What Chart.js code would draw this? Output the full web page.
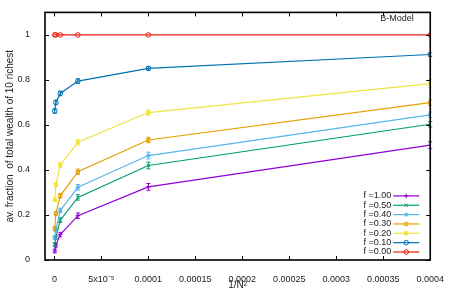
<!DOCTYPE html>
<html>
<head>
<meta charset="utf-8">
<script src="https://cdn.jsdelivr.net/npm/chart.js@4"></script>
<style>
  html, body { margin: 0; padding: 0; background: #fff; }
  #wrap { width: 450px; height: 300px; }
</style>
</head>
<body>
<div id="wrap"><canvas id="chart" width="450" height="300"></canvas></div>
<script>
// 1/N^2 for N = 1600, 800, 400, 200, 100, 50
const xValues = [3.9e-7, 1.5625e-6, 6.25e-6, 2.5e-5, 1e-4, 4e-4];

const seriesLabels = ['f =1.00', 'f =0.50', 'f =0.40', 'f =0.30', 'f =0.20', 'f =0.10', 'f =0.00'];

const f100 = [0.040, 0.065, 0.113, 0.197, 0.325, 0.510];
const f050 = [0.069, 0.100, 0.177, 0.278, 0.420, 0.603];
const f040 = [0.100, 0.135, 0.220, 0.323, 0.464, 0.645];
const f030 = [0.140, 0.207, 0.285, 0.392, 0.533, 0.699];
const f020 = [0.267, 0.334, 0.422, 0.523, 0.655, 0.784];
const f010 = [0.662, 0.700, 0.740, 0.795, 0.851, 0.913];
const f000 = [1.000, 1.000, 1.000, 1.000, 1.000, 1.000];

const f100Err = [0.008, 0.008, 0.010, 0.012, 0.015, 0.015];
const f050Err = [0.008, 0.008, 0.010, 0.012, 0.015, 0.012];
const f040Err = [0.008, 0.008, 0.010, 0.012, 0.015, 0.012];
const f030Err = [0.008, 0.008, 0.010, 0.012, 0.012, 0.012];
const f020Err = [0.008, 0.010, 0.010, 0.012, 0.012, 0.018];
const f010Err = [0.010, 0.010, 0.010, 0.010, 0.008, 0.008];
const f000Err = [0, 0, 0, 0, 0, 0];

const xTickValues = [0, 5e-5, 1e-4, 1.5e-4, 2e-4, 2.5e-4, 3e-4, 3.5e-4, 4e-4];
const xTickLabels = ['0', '5x10\u207B\u2075', '0.0001', '0.00015', '0.0002', '0.00025', '0.0003', '0.00035', '0.0004'];
const yTickValues = [0, 0.2, 0.4, 0.6, 0.8, 1];
const yTickLabels = ['0', '0.2', '0.4', '0.6', '0.8', '1'];

const FONT = 'Liberation Sans, Arial, sans-serif';
const TEXT = '#222';

const styles = [
  { color: '#9400d3', point: 'cross', fill: false },
  { color: '#009e73', point: 'crossRot', fill: false },
  { color: '#56b4e9', point: 'star', fill: false },
  { color: '#e69f00', point: 'rect', fill: false },
  { color: '#f0e442', point: 'rect', fill: true },
  { color: '#0072b2', point: 'circle', fill: false },
  { color: '#e51e10', point: 'circle', fill: false }
];

const values = [f100, f050, f040, f030, f020, f010, f000];
const errors = [f100Err, f050Err, f040Err, f030Err, f020Err, f010Err, f000Err];

const datasets = values.map((vals, k) => ({
  label: seriesLabels[k],
  data: xValues.map((x, i) => ({ x: x, y: vals[i] })),
  err: errors[k],
  borderColor: styles[k].color,
  backgroundColor: styles[k].fill ? styles[k].color : 'rgba(0,0,0,0)',
  pointStyle: styles[k].point,
  pointRadius: 2.3,
  pointBorderWidth: 1,
  borderWidth: 1.2,
  showLine: true,
  tension: 0
}));

// vertical error bars with small caps
const errorBars = {
  id: 'errorBars',
  afterDatasetsDraw(chart) {
    const { ctx, scales: { x, y } } = chart;
    ctx.save();
    chart.data.datasets.forEach(ds => {
      ctx.strokeStyle = ds.borderColor;
      ctx.lineWidth = 1;
      ds.data.forEach((p, i) => {
        const e = ds.err[i];
        if (!e) return;
        const px = x.getPixelForValue(p.x);
        const y1 = y.getPixelForValue(p.y - e);
        const y2 = y.getPixelForValue(p.y + e);
        ctx.beginPath();
        ctx.moveTo(px, y1); ctx.lineTo(px, y2);
        ctx.moveTo(px - 2, y1); ctx.lineTo(px + 2, y1);
        ctx.moveTo(px - 2, y2); ctx.lineTo(px + 2, y2);
        ctx.stroke();
      });
    });
    ctx.restore();
  }
};

// gnuplot-like frame with inward ticks on all four sides, plus key and label
const frame = {
  id: 'frame',
  afterDraw(chart) {
    const { ctx, chartArea: a, scales: { x, y } } = chart;
    ctx.save();
    ctx.strokeStyle = '#000';
    ctx.lineWidth = 1;
    ctx.beginPath();
    xTickValues.forEach(v => {
      const px = Math.round(x.getPixelForValue(v)) + 0.5;
      ctx.moveTo(px, a.bottom); ctx.lineTo(px, a.bottom - 4);
      ctx.moveTo(px, a.top); ctx.lineTo(px, a.top + 4);
    });
    yTickValues.forEach(v => {
      const py = Math.round(y.getPixelForValue(v)) + 0.5;
      ctx.moveTo(a.left, py); ctx.lineTo(a.left + 4, py);
      ctx.moveTo(a.right, py); ctx.lineTo(a.right - 4, py);
    });
    ctx.stroke();
    ctx.lineWidth = 1.6;
    ctx.strokeRect(a.left, a.top, a.right - a.left, a.bottom - a.top);

    ctx.fillStyle = TEXT;
    ctx.font = '9px ' + FONT;
    ctx.textAlign = 'left';
    ctx.textBaseline = 'middle';
    ctx.fillText('B-Model', a.right - 50, a.top + 6);

    const step = 9.35;
    const textRight = a.right - 39;
    const lineL = a.right - 37, lineR = a.right - 11;
    const helpers = Chart.helpers;
    ctx.textAlign = 'right';
    chart.data.datasets.forEach((ds, k) => {
      const ry = a.bottom - 8 - step * (chart.data.datasets.length - 1 - k);
      ctx.fillStyle = TEXT;
      ctx.fillText(ds.label, textRight, ry);
      ctx.strokeStyle = ds.borderColor;
      ctx.lineWidth = 1.2;
      ctx.beginPath();
      ctx.moveTo(lineL, ry); ctx.lineTo(lineR, ry);
      ctx.stroke();
      if (helpers && helpers.drawPoint) {
        ctx.fillStyle = ds.backgroundColor;
        ctx.lineWidth = 1;
        helpers.drawPoint(ctx, { pointStyle: ds.pointStyle, radius: 2.3, rotation: 0, borderWidth: 1 }, (lineL + lineR) / 2, ry);
      }
    });
    ctx.restore();
  }
};

new Chart(document.getElementById('chart'), {
  type: 'scatter',
  data: { datasets: datasets },
  options: {
    responsive: false,
    animation: false,
    layout: { padding: { top: 9, right: 17, left: 0, bottom: 0 } },
    plugins: { legend: { display: false }, tooltip: { enabled: false } },
    scales: {
      x: {
        type: 'linear',
        min: -1e-5,
        max: 4e-4,
        grid: { display: false },
        border: { display: false },
        afterBuildTicks: s => { s.ticks = xTickValues.map(v => ({ value: v })); },
        afterFit: s => { s.height = 40; },
        ticks: {
          autoSkip: false,
          maxRotation: 0,
          padding: 6,
          color: TEXT,
          font: { family: FONT, size: 9 },
          callback: (v, i) => xTickLabels[i]
        },
        title: {
          display: true,
          text: '1/N\u00B2',
          color: TEXT,
          font: { family: FONT, size: 10 },
          padding: { top: 0, bottom: 9 }
        }
      },
      y: {
        type: 'linear',
        min: 0,
        max: 1.1,
        grid: { display: false },
        border: { display: false },
        afterBuildTicks: s => { s.ticks = yTickValues.map(v => ({ value: v })); },
        afterFit: s => { s.width = 45; },
        ticks: {
          autoSkip: false,
          padding: 7,
          color: TEXT,
          font: { family: FONT, size: 9 },
          callback: (v, i) => yTickLabels[i]
        },
        title: {
          display: true,
          text: 'av. fraction  of total wealth of 10 richest',
          color: TEXT,
          font: { family: FONT, size: 10 },
          padding: { top: 4, bottom: 0 }
        }
      }
    }
  },
  plugins: [errorBars, frame]
});
</script>
</body>
</html>
